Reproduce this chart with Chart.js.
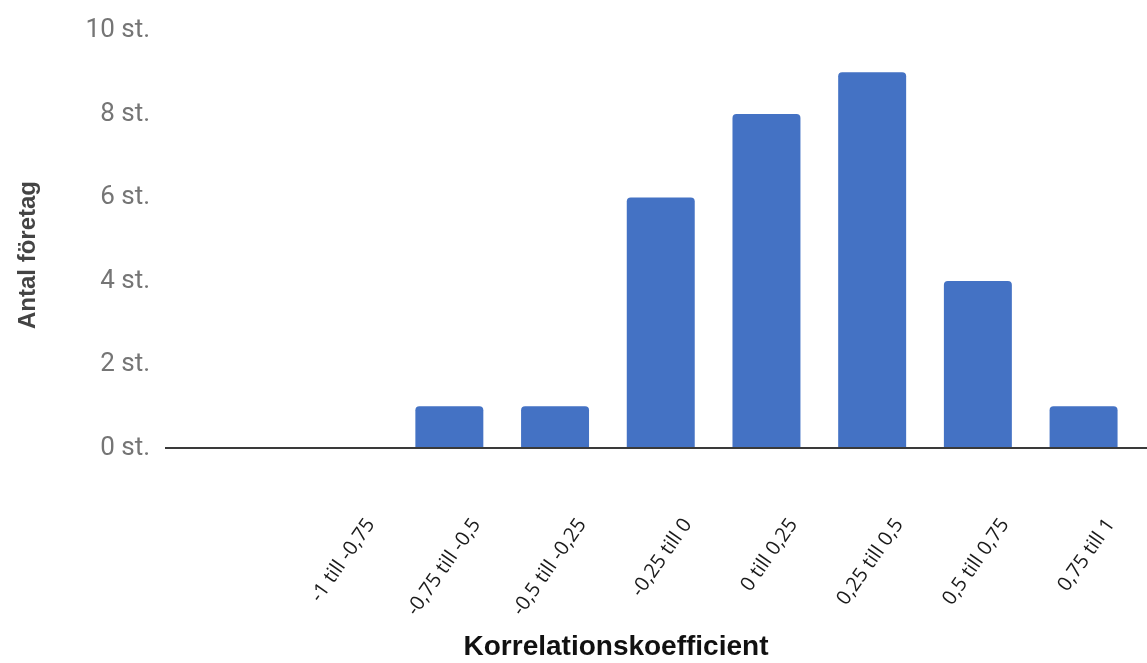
<!DOCTYPE html>
<html>
<head>
<meta charset="utf-8">
<script src="https://cdn.jsdelivr.net/npm/chart.js@4/dist/chart.umd.min.js"></script>
<style>
  html, body { margin: 0; padding: 0; background: #ffffff; }
  #wrap { width: 1147px; height: 663px; position: relative; }
</style>
</head>
<body>
<div id="wrap"><canvas id="chart"></canvas></div>
<script>
// Correlation intervals (x categories)
const categories = [
  '-1 till -0,75', '-0,75 till -0,5', '-0,5 till -0,25', '-0,25 till 0',
  '0 till 0,25', '0,25 till 0,5', '0,5 till 0,75', '0,75 till 1'
];
// Number of companies per interval
const companyCounts = [0, 1, 1, 6, 8, 9, 4, 1];
// Y axis ticks
const yTicks = [0, 2, 4, 6, 8, 10];
const yUnit = ' st.';
const xTitle = 'Korrelationskoefficient';
const yTitle = 'Antal företag';

const points = companyCounts.map((v, i) => ({ x: i, y: v }));

// Axis titles: the x title sits under the rotated labels, the y title at the far left
const axisTitles = {
  id: 'axisTitles',
  afterDraw(chart) {
    const ctx = chart.ctx;
    ctx.save();
    ctx.textAlign = 'center';
    ctx.textBaseline = 'middle';
    ctx.font = 'bold 28px "Liberation Sans", Arial, sans-serif';
    ctx.fillStyle = '#111111';
    ctx.fillText(xTitle, 616, 647);
    ctx.translate(28, 255);
    ctx.rotate(-Math.PI / 2);
    ctx.font = 'bold 24px "Liberation Sans", Arial, sans-serif';
    ctx.fillStyle = '#444444';
    ctx.fillText(yTitle, 0, 0);
    ctx.restore();
  }
};

new Chart(document.getElementById('chart'), {
  type: 'bar',
  data: {
    datasets: [{
      data: points,
      backgroundColor: '#4472C4',
      borderRadius: { topLeft: 4, topRight: 4, bottomLeft: 0, bottomRight: 0 },
      borderSkipped: 'start',
      barPercentage: 0.643,
      categoryPercentage: 1.0
    }]
  },
  options: {
    responsive: true,
    maintainAspectRatio: false,
    animation: false,
    layout: { padding: { top: 18, right: 0, bottom: 25, left: 0 } },
    plugins: { legend: { display: false }, tooltip: { enabled: false } },
    scales: {
      x: {
        type: 'linear',
        offset: false,
        min: -1.69,
        max: 7.6,
        afterBuildTicks: (scale) => { scale.ticks = categories.map((_, i) => ({ value: i })); },
        afterFit: (scale) => {
          scale.height = 190;
          scale.paddingLeft = 0;
          scale.paddingRight = 0;
        },
        grid: { display: false, drawTicks: false },
        border: { display: false },
        ticks: {
          autoSkip: false,
          minRotation: 55,
          maxRotation: 55,
          padding: 66,
          labelOffset: 27,
          color: '#1a1a1a',
          font: { family: '"Open Sans", sans-serif', size: 20 },
          callback: (v) => categories[Math.round(v)] ?? ''
        }
      },
      y: {
        min: 0,
        max: 10,
        afterBuildTicks: (scale) => { scale.ticks = yTicks.map(v => ({ value: v })); },
        afterFit: (scale) => { scale.width = 165; },
        grid: {
          drawTicks: false,
          color: (c) => c.tick && c.tick.value === 0 ? '#3a3a3a' : 'rgba(0,0,0,0)',
          lineWidth: 2
        },
        border: { display: false },
        ticks: {
          padding: 15,
          color: '#757575',
          font: { family: 'Roboto, sans-serif', size: 26 },
          callback: (v) => v + yUnit
        }
      }
    }
  },
  plugins: [axisTitles]
});
</script>
</body>
</html>
